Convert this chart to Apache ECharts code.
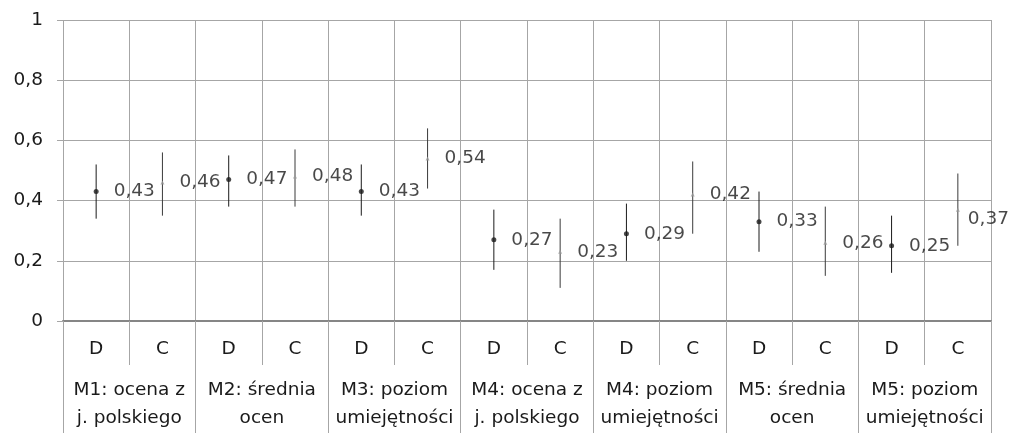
<!DOCTYPE html>
<html>
<head>
<meta charset="utf-8">
<script src="https://cdn.jsdelivr.net/npm/echarts@6/dist/echarts.min.js"></script>
<style>html,body{margin:0;padding:0;background:#fff}#c{width:1011px;height:433px}</style>
</head>
<body>
<div id="c"></div>
<script>
var categories = ['D','C','D','C','D','C','D','C','D','C','D','C','D','C'];
var groups = ['M1: ocena z\nj. polskiego','M2: średnia\nocen','M3: poziom\numiejętności','M4: ocena z\nj. polskiego','M4: poziom\numiejętności','M5: średnia\nocen','M5: poziom\numiejętności'];
var values = [0.43,0.46,0.47,0.48,0.43,0.54,0.27,0.23,0.29,0.42,0.33,0.26,0.25,0.37];
var lows   = [0.34,0.35,0.38,0.38,0.35,0.44,0.17,0.11,0.20,0.29,0.23,0.15,0.16,0.25];
var highs  = [0.52,0.56,0.55,0.57,0.52,0.64,0.37,0.34,0.39,0.53,0.43,0.38,0.35,0.49];
var yTicks = [0,0.2,0.4,0.6,0.8,1];

var font = 'DejaVu Sans';
var fs = 18.5;
var txt = '#1a1a1a';
var gridCol = '#a6a6a6';
function fmt(v){ return String(Math.round(v*100)/100).replace('.', ','); }

var pointData = values.map(function(v,i){
  var isD = categories[i] === 'D';
  return {
    value: [i, v],
    symbol: isD ? 'circle' : 'triangle',
    symbolSize: isD ? 5 : 4,
    itemStyle: {color: isD ? '#1a1a1a' : '#9a9a9a'}
  };
});
var barData = values.map(function(v,i){ return [i, lows[i], highs[i]]; });

var W = 1011;
var chart = echarts.init(document.getElementById('c'), null, {renderer:'canvas'});
chart.setOption({
  animation:false,
  grid:{left:63,right:20,top:20,bottom:112,containLabel:false},
  xAxis:[{
    type:'category', data:categories, boundaryGap:true, position:'bottom',
    axisLine:{show:true, lineStyle:{color:'#868686', width:2}},
    axisTick:{show:true, length:44, interval:0, lineStyle:{color:gridCol}},
    axisLabel:{interval:0, margin:19, fontFamily:font, fontSize:fs, color:txt},
    splitLine:{show:true, interval:0, lineStyle:{color:gridCol, width:1}}
  },{
    type:'category', data:groups, boundaryGap:true, position:'bottom', offset:44,
    axisLine:{show:false},
    axisTick:{show:true, length:70, interval:0, lineStyle:{color:gridCol}},
    axisLabel:{interval:0, margin:11, fontFamily:font, fontSize:fs, color:txt, lineHeight:28},
    splitLine:{show:false}
  }],
  yAxis:{
    type:'value', min:0, max:1, interval:0.2,
    axisLine:{show:false},
    axisTick:{show:true, length:6, lineStyle:{color:gridCol}},
    axisLabel:{margin:20, fontFamily:font, fontSize:fs, color:txt,
      formatter:function(v){ return fmt(v); }},
    splitLine:{show:true, lineStyle:{color:gridCol, width:1}}
  },
  series:[{
    type:'custom', xAxisIndex:0,
    data:barData,
    renderItem:function(params, api){
      var i = api.value(0);
      var p1 = api.coord([i, api.value(1)]);
      var p2 = api.coord([i, api.value(2)]);
      var isD = categories[i] === 'D';
      return {type:'line', shape:{x1:p1[0], y1:p1[1], x2:p2[0], y2:p2[1]},
        style:{stroke: isD ? '#1a1a1a' : '#3a3a3a', lineWidth:1}};
    },
    z:3
  },{
    type:'scatter', xAxisIndex:0,
    data:pointData,
    label:{show:true, position:'right', distance:15, fontFamily:font, fontSize:fs, color:txt,
      formatter:function(p){ return fmt(p.value[1]); }},
    labelLayout:function(params){
      var r = params.labelRect;
      if (r.x + r.width > W - 2) { return {x: W - 2 - r.width, align:'left'}; }
      return {};
    },
    z:4
  }]
});
</script>
</body>
</html>
